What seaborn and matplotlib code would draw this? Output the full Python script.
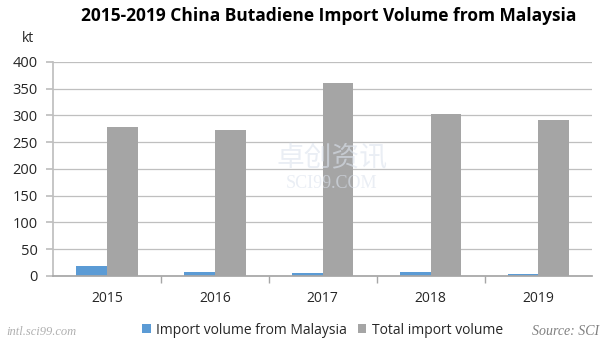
import pandas as pd
import matplotlib.pyplot as plt
import seaborn as sns

# data (kt)
years = ['2015', '2016', '2017', '2018', '2019']
malaysia = [18, 8, 6, 8, 4]
total = [278, 272, 360, 302, 291]
series_names = ['Import volume from Malaysia', 'Total import volume']

df = pd.DataFrame({
    'Year': years * 2,
    'Volume': malaysia + total,
    'Series': [series_names[0]] * len(years) + [series_names[1]] * len(years),
})

sns.set_theme(style='white')
plt.rcParams['font.family'] = ['Open Sans', 'DejaVu Sans']

fig = plt.figure(figsize=(6.14, 3.52), dpi=100)
ax = fig.add_axes([0.0863, 0.216, 0.8785, 0.608])

sns.barplot(data=df, x='Year', y='Volume', hue='Series',
            palette=['#5B9BD5', '#A5A5A5'], width=0.57, gap=0,
            saturation=1, linewidth=0, ax=ax, legend=True)

ax.set_ylim(0, 400)
ax.set_xlim(-0.5, len(years) - 0.5)
ax.set_yticks(range(0, 401, 50))
ax.yaxis.grid(True, color='#BFBFBF', linewidth=0.9)
ax.set_axisbelow(True)
ax.set_xlabel('')
ax.set_ylabel('')

for side in ['top', 'right']:
    ax.spines[side].set_visible(False)
ax.spines['left'].set_color('#BFBFBF')
ax.spines['bottom'].set_color('#A6A6A6')

# ticks on category boundaries, labels at centres
ax.set_xticks([i + 0.5 for i in range(len(years) - 1)], minor=True)
ax.tick_params(axis='x', which='major', length=0, pad=11, labelsize=10, labelcolor='#262626')
ax.tick_params(axis='x', which='minor', length=5, color='#A6A6A6', direction='out', bottom=True)
ax.tick_params(axis='y', length=5, color='#BFBFBF', direction='out', left=True,
               labelsize=10.5, labelcolor='#262626', pad=6)

ax.legend(loc='upper center', bbox_to_anchor=(0.5, -0.16), ncol=2, frameon=False,
          fontsize=10, handlelength=0.6, handleheight=0.6, handletextpad=0.4,
          columnspacing=0.8, labelcolor='#262626')

fig.text(0.535, 0.955, '2015-2019 China Butadiene Import Volume from Malaysia',
         ha='center', va='center', fontsize=12.5, fontweight='bold', color='#000000')
fig.text(0.036, 0.89, 'kt', ha='left', va='center', fontsize=10, color='#262626')
fig.text(0.975, 0.058, 'Source: SCI', ha='right', va='center', fontsize=10,
         style='italic', family='Liberation Serif', color='#808080')
fig.text(0.01, 0.058, 'intl.sci99.com', ha='left', va='center', fontsize=9,
         style='italic', family='Liberation Serif', color='#B0B0B0')

# faint watermark
fig.text(0.54, 0.55, '卓创资讯', ha='center', va='center', fontsize=20,
         family=['Noto Sans CJK SC', 'DejaVu Sans'], color='#DCE3EE', alpha=0.6, zorder=0)
fig.text(0.54, 0.48, 'SCI99.COM', ha='center', va='center', fontsize=13,
         family='Liberation Serif', color='#DCE3EE', alpha=0.6, zorder=0)

fig.savefig('out.png', dpi=100)
